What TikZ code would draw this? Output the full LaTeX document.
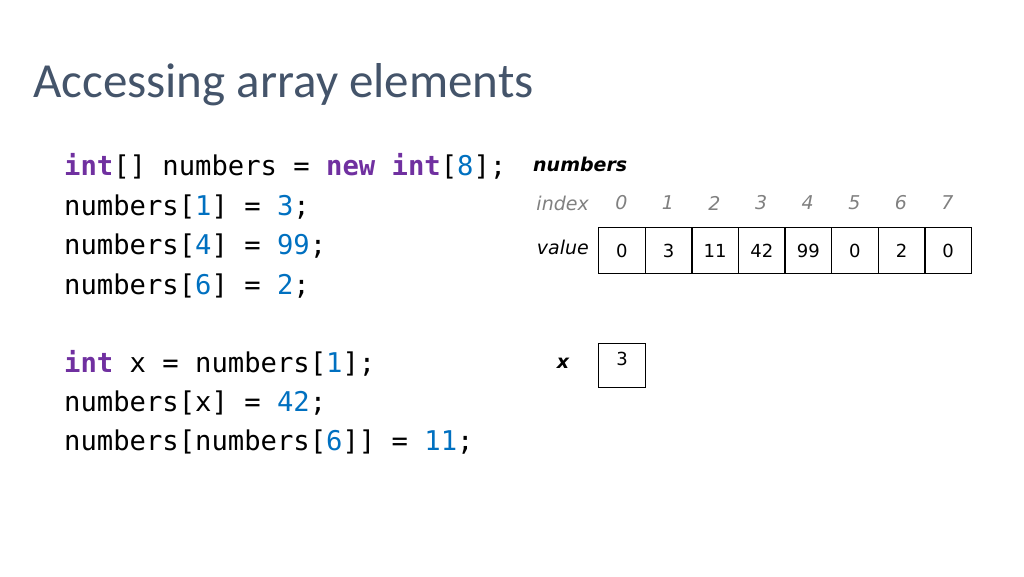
\documentclass[tikz,border=0pt]{standalone}
\usepackage{fontspec}
\setmainfont{Carlito}
\newfontfamily\codefont{DejaVu Sans Mono}
\newfontfamily\verd{DejaVu Sans}
\definecolor{kw}{HTML}{7030A0}
\definecolor{nm}{HTML}{0070C0}
\definecolor{ttl}{HTML}{44546A}
\definecolor{idx}{HTML}{808080}
\begin{document}
\begin{tikzpicture}[x=1pt,y=-1pt,
  code/.style={anchor=base west,inner sep=0pt,font=\codefont\fontsize{27.2}{30}\selectfont},
  lab/.style={inner sep=0pt,font=\verd\itshape\fontsize{19}{22}\selectfont},
  cell/.style={draw,line width=1.3pt,minimum width=46.6pt,minimum height=46pt,inner sep=0pt,anchor=north west,font=\verd\fontsize{18}{20}\selectfont}]
\useasboundingbox (0,0) rectangle (1024,576);
\node[anchor=base west,inner sep=0pt,text=ttl,font=\fontsize{49}{56}\selectfont] (title) at (33,97) {Accessing array elements};
\node[code] (l1) at (64,175) {\textcolor{kw}{\textbf{int}}[] numbers = \textcolor{kw}{\textbf{new}} \textcolor{kw}{\textbf{int}}[\textcolor{nm}{8}];};
\node[code] (l2) at (64,215) {numbers[\textcolor{nm}{1}] = \textcolor{nm}{3};};
\node[code] (l3) at (64,254) {numbers[\textcolor{nm}{4}] = \textcolor{nm}{99};};
\node[code] (l4) at (64,294) {numbers[\textcolor{nm}{6}] = \textcolor{nm}{2};};
\node[code] (l5) at (64,372) {\textcolor{kw}{\textbf{int}} x = numbers[\textcolor{nm}{1}];};
\node[code] (l6) at (64,411) {numbers[x] = \textcolor{nm}{42};};
\node[code] (l7) at (64,450) {numbers[numbers[\textcolor{nm}{6}]] = \textcolor{nm}{11};};
\node[lab,anchor=west,font=\verd\bfseries\itshape\fontsize{19}{22}\selectfont] (nlab) at (533,164) {numbers};
\node[lab,anchor=east,text=idx] (ilab) at (589,203) {index};
\node[lab,anchor=east] (vlab) at (589,247) {value};
\foreach \v [count=\i from 0] in {0,3,11,42,99,0,2,0} {
  \node[cell] (c\i) at ({598+46.6*\i},227) {\v};
  \node[lab,text=idx] (i\i) at ({621.3+46.6*\i},203) {\i};
}
\node[lab,font=\verd\bfseries\itshape\fontsize{19}{22}\selectfont] (xlab) at (563,363) {x};
\node[cell,minimum height=44pt,minimum width=47pt,text depth=14pt] (xbox) at (598,343) {3};
\end{tikzpicture}
\end{document}
